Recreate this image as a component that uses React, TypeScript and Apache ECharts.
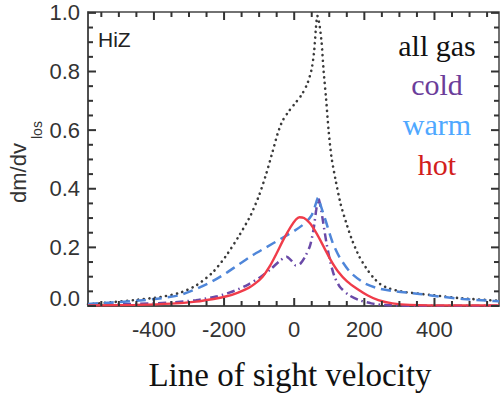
import React, { useEffect, useRef } from "react";
import * as echarts from "echarts";

// ---- data ----
const allGasV = [-588, -520, -450, -380, -329, -281, -233, -195, -157, -124, -100, -80, -62, -48, -34, -15, 5, 22, 38, 50, 57, 62, 66, 72, 78, 84, 91, 98, 106, 118, 132, 148, 165, 185, 205, 225, 245, 270, 309, 386, 480, 584];
const allGasY = [0.006, 0.013, 0.021, 0.031, 0.044, 0.069, 0.114, 0.17, 0.24, 0.31, 0.378, 0.45, 0.525, 0.585, 0.63, 0.665, 0.695, 0.722, 0.76, 0.81, 0.87, 0.95, 0.99, 0.96, 0.9, 0.8, 0.706, 0.6, 0.51, 0.43, 0.35, 0.285, 0.225, 0.17, 0.13, 0.098, 0.075, 0.06, 0.049, 0.038, 0.026, 0.018];

const coldV = [-588, -450, -350, -280, -220, -170, -130, -95, -65, -40, -22, -8, 5, 18, 32, 45, 55, 63, 69, 75, 82, 92, 103, 115, 130, 155, 185, 220, 260, 350, 584];
const coldY = [0.004, 0.007, 0.012, 0.02, 0.033, 0.052, 0.074, 0.1, 0.128, 0.155, 0.168, 0.155, 0.138, 0.145, 0.17, 0.205, 0.26, 0.33, 0.367, 0.34, 0.29, 0.215, 0.15, 0.1, 0.066, 0.038, 0.02, 0.009, 0.003, 0.001, 0.001];

const warmV = [-588, -520, -450, -390, -330, -280, -240, -200, -160, -120, -80, -40, 0, 30, 50, 62, 68, 75, 90, 110, 130, 160, 200, 240, 290, 357, 424, 481, 557, 584];
const warmY = [0.007, 0.012, 0.018, 0.025, 0.036, 0.058, 0.08, 0.108, 0.14, 0.172, 0.2, 0.228, 0.256, 0.282, 0.31, 0.35, 0.37, 0.345, 0.29, 0.215, 0.165, 0.115, 0.078, 0.06, 0.05, 0.041, 0.031, 0.024, 0.018, 0.016];

const hotV = [-588, -450, -350, -280, -230, -190, -160, -130, -110, -90, -70, -50, -30, -10, 5, 15, 28, 45, 65, 85, 105, 125, 150, 180, 210, 240, 280, 330, 450, 584];
const hotY = [0.002, 0.004, 0.008, 0.015, 0.024, 0.034, 0.046, 0.062, 0.078, 0.1, 0.135, 0.18, 0.228, 0.27, 0.295, 0.303, 0.3, 0.282, 0.245, 0.2, 0.155, 0.118, 0.085, 0.058, 0.036, 0.02, 0.009, 0.004, 0.002, 0.002];

const xMajorTicks = [-400, -200, 0, 200, 400];
const xMinorTicks = [-550, -500, -450, -350, -300, -250, -150, -100, -50, 50, 100, 150, 250, 300, 350, 450, 500, 550];
const yMajorTicks = [0, 0.2, 0.4, 0.6, 0.8, 1.0];
const yMinorTicks = [0.05, 0.1, 0.15, 0.25, 0.3, 0.35, 0.45, 0.5, 0.55, 0.65, 0.7, 0.75, 0.85, 0.9, 0.95];

const legendLabels = ["all gas", "cold", "warm", "hot"];
const legendColors = ["#111111", "#6b3d9a", "#4fa8ff", "#d2201c"];

const XMIN = -588;
const XMAX = 584;
const YMIN = 0;
const YMAX = 1.003;

const MAJOR_LEN = 8;
const MINOR_LEN = 5;

const pairs = (v: number[], y: number[]) => v.map((x, i) => [x, y[i]]);

const AXIS_COLOR = "#444444";
const TICK_COLOR = "#333333";
const SANS = "'Liberation Sans', Arial, Helvetica, sans-serif";
const SERIF = "'Liberation Serif', 'Times New Roman', serif";

export default function App() {
  const ref = useRef<HTMLDivElement>(null);
  useEffect(() => {
    if (!ref.current) return;
    const chart = echarts.init(ref.current, null, { renderer: "svg" });
    const legendYs = [45, 84, 124, 164];

    chart.setOption({
      animation: false,
      grid: {
        left: 88,
        right: 4,
        top: 12,
        bottom: 87,
        containLabel: false,
        outerBoundsMode: "none",
        show: true,
        borderColor: AXIS_COLOR,
        borderWidth: 1.5,
        backgroundColor: "transparent",
      },
      xAxis: {
        type: "value",
        min: XMIN,
        max: XMAX,
        axisLine: { show: true, onZero: false, lineStyle: { color: AXIS_COLOR, width: 1.5 } },
        axisTick: { show: false },
        axisLabel: { show: true, customValues: xMajorTicks, color: "#333", fontSize: 22, fontFamily: SANS, margin: 12, formatter: (v: number) => String(v) },
        splitLine: { show: false },
      },
      yAxis: {
        type: "value",
        min: YMIN,
        max: YMAX,
        axisLine: { show: true, onZero: false, lineStyle: { color: AXIS_COLOR, width: 1.5 } },
        axisTick: { show: false },
        axisLabel: {
          show: true,
          customValues: yMajorTicks,
          color: "#333",
          fontSize: 22,
          fontFamily: SANS,
          margin: 8,
          formatter: (v: number) => (Math.abs(v) < 1e-9 ? "{z|0.0}" : v.toFixed(1)),
          rich: { z: { fontSize: 22, fontFamily: SANS, color: "#333", padding: [0, 0, 16, 0] } },
        },
        splitLine: { show: false },
      },
      series: [
        {
          name: "all gas",
          type: "line",
          data: pairs(allGasV, allGasY),
          showSymbol: false,
          smooth: 0.25,
          lineStyle: { color: "#3a3a3a", width: 2.6, type: [0.1, 5.5], cap: "round" },
        },
        {
          name: "cold",
          type: "line",
          data: pairs(coldV, coldY),
          showSymbol: false,
          smooth: 0.25,
          lineStyle: { color: "#6a4aa8", width: 2.5, type: [8, 4, 1.5, 4] },
        },
        {
          name: "warm",
          type: "line",
          data: pairs(warmV, warmY),
          showSymbol: false,
          smooth: 0.25,
          lineStyle: { color: "#4f86d9", width: 2.5, type: [10, 6] },
        },
        {
          name: "hot",
          type: "line",
          data: pairs(hotV, hotY),
          showSymbol: false,
          smooth: 0.25,
          lineStyle: { color: "#f03c4a", width: 2.4 },
        },
      ],
    });

    // tick marks, placed through the chart's own axis scales
    const toPx = (p: number[]) => chart.convertToPixel({ xAxisIndex: 0, yAxisIndex: 0 } as any, p) as number[];
    const tickEls: any[] = [];
    const tickLine = (x1: number, y1: number, x2: number, y2: number) => ({
      type: "line",
      z: 100,
      shape: { x1, y1, x2, y2 },
      style: { stroke: TICK_COLOR, lineWidth: 2 },
    });
    const addX = (v: number, len: number) => {
      const b = toPx([v, YMIN]);
      const t = toPx([v, YMAX]);
      tickEls.push(tickLine(b[0], b[1], b[0], b[1] - len));
      tickEls.push(tickLine(t[0], t[1], t[0], t[1] + len));
    };
    const addY = (v: number, len: number) => {
      const l = toPx([XMIN, v]);
      const r = toPx([XMAX, v]);
      tickEls.push(tickLine(l[0], l[1], l[0] + len, l[1]));
      tickEls.push(tickLine(r[0], r[1], r[0] - len, r[1]));
    };
    xMajorTicks.forEach((v) => addX(v, MAJOR_LEN));
    xMinorTicks.forEach((v) => addX(v, MINOR_LEN));
    yMajorTicks.forEach((v) => addY(v, MAJOR_LEN));
    yMinorTicks.forEach((v) => addY(v, MINOR_LEN));

    const textEls: any[] = [
      {
        type: "text",
        x: 98,
        y: 39,
        style: { text: "HiZ", fill: "#222", font: `21px ${SANS}`, textAlign: "left", textVerticalAlign: "middle", align: "left", verticalAlign: "middle" },
      },
      ...legendLabels.map((t, i) => ({
        type: "text",
        x: 437,
        y: legendYs[i],
        style: { text: t, fill: legendColors[i], font: `30px ${SERIF}`, textAlign: "center", textVerticalAlign: "middle", align: "center", verticalAlign: "middle" },
      })),
      {
        type: "text",
        x: 290,
        y: 375,
        style: { text: "Line of sight velocity", fill: "#111", font: `33px ${SERIF}`, textAlign: "center", textVerticalAlign: "middle", align: "center", verticalAlign: "middle" },
      },
      {
        type: "text",
        x: 18,
        y: 203,
        rotation: Math.PI / 2,
        style: { text: "dm/dv", fill: "#333", font: `22px ${SANS}`, textAlign: "left", textVerticalAlign: "middle", align: "left", verticalAlign: "middle" },
      },
      {
        type: "text",
        x: 37,
        y: 139,
        rotation: Math.PI / 2,
        style: { text: "los", fill: "#333", font: `14px ${SANS}`, textAlign: "left", textVerticalAlign: "middle", align: "left", verticalAlign: "middle" },
      },
    ];

    chart.setOption({ graphic: [...textEls, ...tickEls] });
    return () => chart.dispose();
  }, []);
  return <div ref={ref} style={{ width: 503, height: 393, position: "absolute", left: 0, top: 0 }} />;
}
